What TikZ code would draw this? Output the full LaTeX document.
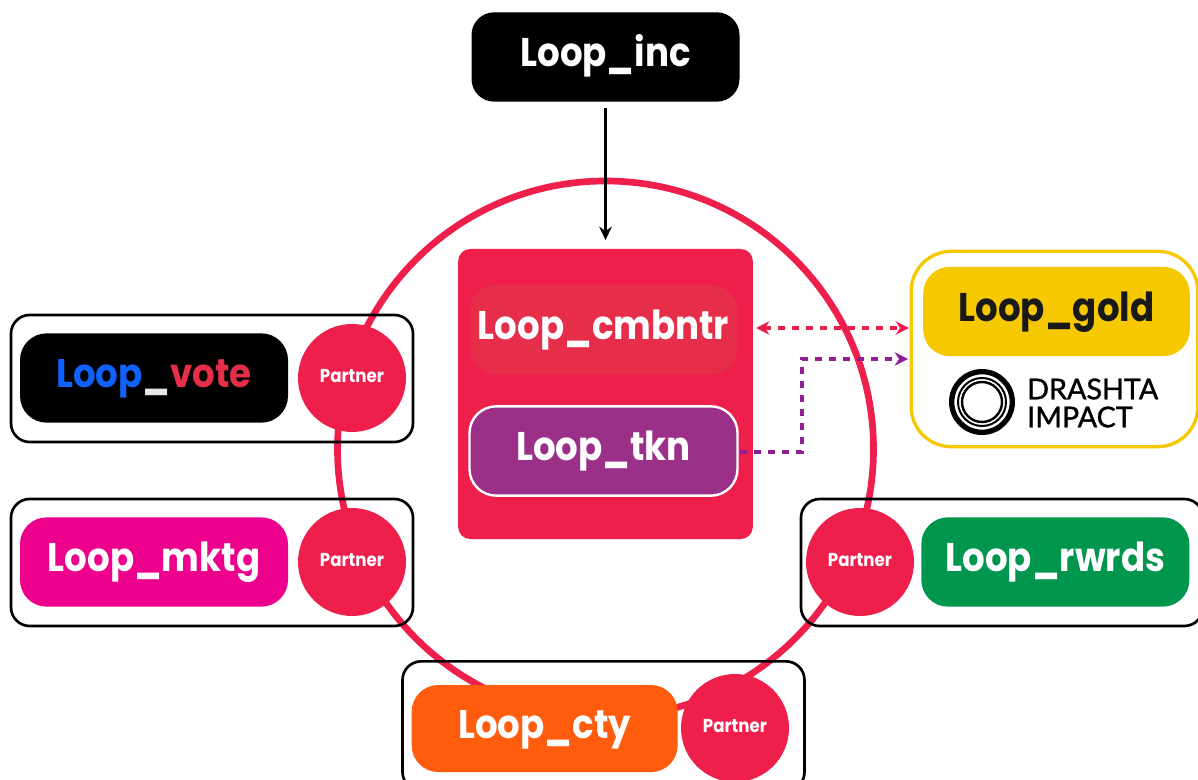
\documentclass[tikz,border=0pt]{standalone}
\usepackage{fontspec}
\setmainfont[FakeStretch=0.89]{Poppins}
\newfontfamily\drashtafont[FakeBold=1.2]{Lato}
\usetikzlibrary{positioning}
\usetikzlibrary{arrows.meta}
\definecolor{loopred}{HTML}{EF1F4C}
\definecolor{tilered}{HTML}{E62E4B}
\definecolor{tknpurple}{HTML}{9B3088}
\definecolor{arrowpurple}{HTML}{8F1F93}
\definecolor{goldfill}{HTML}{F6C800}
\definecolor{mktgpink}{HTML}{EC008C}
\definecolor{rwrdsgreen}{HTML}{00964E}
\definecolor{ctyorange}{HTML}{FF5C0D}
\definecolor{votegrey}{HTML}{E8E8E8}
\definecolor{voteblue}{HTML}{0F62FE}
\tikzset{
    pill/.style = {rounded corners = 20pt, minimum width = 201pt, minimum height = 67pt, inner sep = 0pt,
                   text height = 21.5pt, text depth = 6.7pt,
                   text = white, font = \fontsize{30}{32}\selectfont\bfseries},
    partner/.style = {circle, fill = loopred, minimum size = 81pt, inner sep = 0pt, text = white,
                      text height = 10pt, text depth = 3.6pt,
                      font = \fontsize{14}{16}\selectfont\bfseries},
    frame/.style = {draw = black, line width = 2pt, rounded corners = 14pt, minimum width = 301.5pt,
                    minimum height = 95.25pt, inner sep = 0pt},
    link/.style = {line width = 2.4pt, dash pattern = on 5.25pt off 5.25pt},
}

\begin{document}
\begin{tikzpicture}[x = 0.75pt, y = -0.75pt, on grid]
    \useasboundingbox[clip] (0,0) rectangle (1198,780);

    \node (ring) at (605.5,449) [circle, draw = loopred, line width = 5pt, minimum size = 402pt, inner sep = 0pt] {};

    % partner frames
    \node (frameVote) at (212,378.5) [frame] {};
    \node (frameMktg) at (212,562.5) [frame] {};
    \node (frameRwrds) at (1002,562.5) [frame] {};
    \node (frameCty) at (603.5,726) [frame, minimum height = 97pt] {};

    \node (partnerVote) at (352,378) [partner] {Partner};
    \node (pillVote) [pill, fill = black, left = 148.5pt of partnerVote] {\textcolor{voteblue}{Loop}\textcolor{votegrey}{\_}\textcolor{tilered}{vote}};

    \node (partnerMktg) at (352,562) [partner] {Partner};
    \node (pillMktg) [pill, fill = mktgpink, left = 148.5pt of partnerMktg] {Loop\_mktg};

    \node (partnerRwrds) at (860,562) [partner] {Partner};
    \node (pillRwrds) [pill, fill = rwrdsgreen, right = 146.5pt of partnerRwrds] {Loop\_rwrds};

    \node (partnerCty) at (735,728) [partner] {Partner};
    \node (pillCty) [pill, fill = ctyorange, minimum width = 199.5pt, minimum height = 65.25pt, left = 142.75pt of partnerCty, yshift = -0.4pt] {Loop\_cty};

    % centre block
    \node (inc) at (605.5,57) [pill, fill = black, rounded corners = 17pt] {Loop\_inc};
    \node (block) at (605.5,394) [fill = loopred, rounded corners = 9pt, minimum width = 221pt, minimum height = 217.5pt] {};
    \node (cmbntr) at (603.5,329.5) [pill, fill = tilered] {Loop\_cmbntr};
    \node (tkn) at (603.5,451) [pill, fill = tknpurple, draw = white, line width = 1.8pt] {Loop\_tkn};

    % gold box
    \node (frameGold) at (1054.5,349) [draw = goldfill, line width = 2.5pt, rounded corners = 30pt, minimum width = 215pt, minimum height = 146.5pt] {};
    \node (gold) at (1056.5,311.5) [pill, fill = goldfill, text = black!90, minimum width = 200pt] {Loop\_gold};
    \node (logo) at (982,402) [circle, draw = black, line width = 4pt, minimum size = 45.5pt, inner sep = 0pt] {};
    \node (logoMid) at (982,402) [circle, draw = black, line width = 1.5pt, minimum size = 36pt, inner sep = 0pt] {};
    \node (logoIn) at (982,402) [circle, draw = black, line width = 1.8pt, minimum size = 30pt, inner sep = 0pt] {};
    \node (drashta) at (1027,403) [anchor = west, align = left, inner sep = 0pt, font = \fontsize{21.5}{21}\selectfont\drashtafont] {DRASHTA\\IMPACT};

    % connectors
    \coordinate (tknOut) at (740,452);
    \coordinate (goldIn) at (908,359);
    \coordinate (bend1) at (802,452);
    \coordinate (bend2) at (802,359);
    \coordinate (cmbntrEnd) at (756,328);
    \coordinate (goldEnd) at (909,328);
    \coordinate (incOut) at (605.5,108);
    \coordinate (blockIn) at (605.5,240);

    \draw[-{Stealth[length = 10pt, width = 9.5pt]}, line width = 2.2pt] (incOut) -- (blockIn);
    \draw[{Stealth[length = 10pt, width = 10pt]}-{Stealth[length = 10pt, width = 10pt]}, draw = loopred, link] (cmbntrEnd) -- (goldEnd);
    \draw[-{Stealth[length = 10pt, width = 10pt]}, draw = arrowpurple, link] (tknOut) -- (bend1) -- (bend2) -- (goldIn);
\end{tikzpicture}
\end{document}
